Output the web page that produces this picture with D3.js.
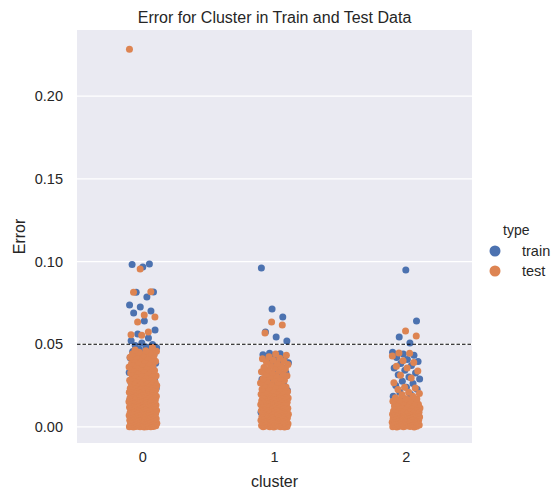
<!DOCTYPE html>
<html>
<head>
<meta charset="utf-8">
<script src="https://cdn.jsdelivr.net/npm/d3@7"></script>
<style>
  body { margin: 0; background: #fff; }
  text { font-family: "Liberation Sans", Arial, sans-serif; fill: #262626; }
</style>
</head>
<body>
<script>
// categories and hue levels
var clusters = ["0", "1", "2"];
var types = ["train", "test"];
var yTicks = [0.00, 0.05, 0.10, 0.15, 0.20];
var threshold = 0.05;

// error values, one list per cluster and type
var train0 = [0.0985, 0.0982, 0.0967, 0.0816, 0.0814, 0.0786, 0.0737, 0.0725, 0.0701, 0.0689,
  0.0640, 0.0586, 0.0562, 0.0538, 0.0521, 0.0507, 0.0499, 0.0492, 0.0484, 0.0479,
  0.0470, 0.0461, 0.0456, 0.0447, 0.0441, 0.0433, 0.0428, 0.0419, 0.0413, 0.0405,
  0.0399, 0.0392, 0.0385, 0.0377, 0.0372, 0.0364, 0.0356, 0.0351, 0.0343, 0.0338,
  0.0329, 0.0322, 0.0317, 0.0308, 0.0301, 0.0296, 0.0287, 0.0281, 0.0273, 0.0266,
  0.0259, 0.0250, 0.0244, 0.0235, 0.0229, 0.0220, 0.0213, 0.0205, 0.0197, 0.0189,
  0.0176, 0.0162, 0.0151, 0.0137, 0.0122, 0.0109, 0.0094, 0.0081, 0.0066, 0.0052,
  0.0039, 0.0027, 0.0014, 0.0006];
var test0 = [0.2284, 0.0955, 0.0818, 0.0815, 0.0677, 0.0665, 0.0634, 0.0574, 0.0557, 0.0554,
  0.0480, 0.0466, 0.0458, 0.0443, 0.0432, 0.0418, 0.0409, 0.0397, 0.0388, 0.0371,
  0.0362, 0.0349, 0.0333, 0.0321, 0.0309, 0.0298, 0.0289, 0.0283, 0.0279, 0.0274,
  0.0270, 0.0266, 0.0262, 0.0257, 0.0253, 0.0249, 0.0245, 0.0241, 0.0236, 0.0232,
  0.0228, 0.0224, 0.0219, 0.0215, 0.0211, 0.0207, 0.0203, 0.0198, 0.0194, 0.0190,
  0.0186, 0.0182, 0.0177, 0.0173, 0.0169, 0.0165, 0.0161, 0.0156, 0.0152, 0.0148,
  0.0144, 0.0140, 0.0135, 0.0131, 0.0127, 0.0123, 0.0119, 0.0114, 0.0110, 0.0106,
  0.0102, 0.0098, 0.0094, 0.0089, 0.0085, 0.0081, 0.0077, 0.0073, 0.0068, 0.0064,
  0.0060, 0.0056, 0.0052, 0.0047, 0.0043, 0.0039, 0.0035, 0.0031, 0.0026, 0.0022,
  0.0018, 0.0014, 0.0010, 0.0007, 0.0005, 0.0003, 0.0002, 0.0001, 0.0000, 0.0000,
  0.0004, 0.0009, 0.0017, 0.0025, 0.0033, 0.0046, 0.0058, 0.0071, 0.0084, 0.0097,
  0.0112, 0.0126, 0.0139, 0.0153, 0.0167, 0.0181, 0.0196, 0.0210, 0.0226, 0.0241,
  0.0012, 0.0029, 0.0041, 0.0063, 0.0078, 0.0091, 0.0117, 0.0133, 0.0158, 0.0184,
  0.0003, 0.0008, 0.0013, 0.0019, 0.0024, 0.0030, 0.0036, 0.0042, 0.0048, 0.0054,
  0.0061, 0.0067, 0.0074, 0.0080, 0.0087, 0.0093, 0.0100, 0.0107, 0.0115, 0.0121,
  0.0129, 0.0136, 0.0142, 0.0149, 0.0155, 0.0163, 0.0171, 0.0178, 0.0185, 0.0192,
  0.0200, 0.0208, 0.0216, 0.0222, 0.0230, 0.0238, 0.0247, 0.0255, 0.0263, 0.0271,
  0.0001, 0.0006, 0.0016, 0.0021, 0.0032, 0.0044, 0.0050, 0.0057, 0.0069, 0.0076,
  0.0088, 0.0099, 0.0104, 0.0116, 0.0125, 0.0138, 0.0146, 0.0159, 0.0166, 0.0179,
  0.0188, 0.0201, 0.0213, 0.0225, 0.0234, 0.0251, 0.0268, 0.0277, 0.0002, 0.0011,
  0.0023, 0.0037, 0.0049, 0.0062, 0.0075, 0.0095, 0.0108, 0.0134, 0.0160, 0.0187,
  0.0285, 0.0292, 0.0301, 0.0306, 0.0314, 0.0318, 0.0326, 0.0337, 0.0341, 0.0354,
  0.0358, 0.0366, 0.0376, 0.0381, 0.0393, 0.0402, 0.0413, 0.0422, 0.0427, 0.0437,
  0.0448, 0.0452, 0.0461, 0.0294, 0.0311, 0.0344, 0.0385, 0.0421];
var train1 = [0.0961, 0.0713, 0.0665, 0.0574, 0.0544, 0.0520, 0.0446, 0.0442, 0.0436, 0.0428,
  0.0419, 0.0408, 0.0397, 0.0388, 0.0376, 0.0363, 0.0351, 0.0339, 0.0327, 0.0314,
  0.0302, 0.0288, 0.0275, 0.0262, 0.0249, 0.0236, 0.0221, 0.0207, 0.0193, 0.0178,
  0.0161, 0.0144, 0.0127, 0.0108, 0.0089, 0.0071, 0.0053, 0.0034, 0.0016, 0.0004];
var test1 = [0.0634, 0.0616, 0.0568, 0.0441, 0.0433, 0.0425, 0.0412, 0.0404, 0.0391, 0.0377,
  0.0365, 0.0352, 0.0341, 0.0329, 0.0317, 0.0305, 0.0291, 0.0278, 0.0266, 0.0254,
  0.0241, 0.0233, 0.0224, 0.0219, 0.0215, 0.0211, 0.0206, 0.0202, 0.0198, 0.0193,
  0.0189, 0.0185, 0.0180, 0.0176, 0.0172, 0.0167, 0.0163, 0.0159, 0.0154, 0.0150,
  0.0146, 0.0141, 0.0137, 0.0133, 0.0128, 0.0124, 0.0120, 0.0115, 0.0111, 0.0107,
  0.0102, 0.0098, 0.0094, 0.0089, 0.0085, 0.0081, 0.0076, 0.0072, 0.0068, 0.0063,
  0.0059, 0.0055, 0.0050, 0.0046, 0.0042, 0.0037, 0.0033, 0.0029, 0.0024, 0.0020,
  0.0016, 0.0012, 0.0008, 0.0005, 0.0003, 0.0001, 0.0000, 0.0000, 0.0006, 0.0014,
  0.0027, 0.0039, 0.0052, 0.0066, 0.0079, 0.0093, 0.0105, 0.0118, 0.0131, 0.0144,
  0.0157, 0.0170, 0.0183, 0.0196, 0.0209, 0.0010, 0.0031, 0.0061, 0.0087, 0.0122,
  0.0002, 0.0007, 0.0011, 0.0017, 0.0022, 0.0028, 0.0034, 0.0040, 0.0045, 0.0051,
  0.0057, 0.0064, 0.0070, 0.0077, 0.0083, 0.0090, 0.0096, 0.0103, 0.0109, 0.0116,
  0.0123, 0.0130, 0.0136, 0.0143, 0.0149, 0.0156, 0.0162, 0.0169, 0.0175, 0.0182,
  0.0188, 0.0195, 0.0201, 0.0208, 0.0214, 0.0001, 0.0009, 0.0019, 0.0026, 0.0035,
  0.0048, 0.0058, 0.0069, 0.0080, 0.0092, 0.0101, 0.0113, 0.0126, 0.0139, 0.0152,
  0.0166, 0.0179, 0.0192, 0.0205, 0.0218,
  0.0228, 0.0237, 0.0245, 0.0259, 0.0270, 0.0283, 0.0296, 0.0309, 0.0322, 0.0334,
  0.0346, 0.0358, 0.0372, 0.0384, 0.0398, 0.0416, 0.0250, 0.0287, 0.0313, 0.0360];
var train2 = [0.0949, 0.0640, 0.0544, 0.0508, 0.0452, 0.0441, 0.0433, 0.0420, 0.0408, 0.0396,
  0.0383, 0.0371, 0.0356, 0.0343, 0.0326, 0.0315, 0.0302, 0.0290, 0.0276, 0.0262,
  0.0250, 0.0240, 0.0228, 0.0210, 0.0198, 0.0185, 0.0170, 0.0145, 0.0128, 0.0112,
  0.0096, 0.0079, 0.0063, 0.0047, 0.0031, 0.0018, 0.0007];
var test2 = [0.0580, 0.0550, 0.0447, 0.0445, 0.0390, 0.0356, 0.0296, 0.0240, 0.0235, 0.0210,
  0.0195, 0.0186, 0.0176, 0.0171, 0.0164, 0.0158, 0.0151, 0.0143, 0.0137, 0.0129,
  0.0122, 0.0116, 0.0109, 0.0103, 0.0098, 0.0094, 0.0090, 0.0086, 0.0082, 0.0078,
  0.0074, 0.0070, 0.0066, 0.0062, 0.0058, 0.0054, 0.0050, 0.0046, 0.0042, 0.0038,
  0.0034, 0.0030, 0.0026, 0.0022, 0.0018, 0.0014, 0.0010, 0.0007, 0.0004, 0.0002,
  0.0000, 0.0000, 0.0005, 0.0012, 0.0020, 0.0028, 0.0036, 0.0044, 0.0052, 0.0060,
  0.0068, 0.0076, 0.0084, 0.0092, 0.0101, 0.0113, 0.0126, 0.0140, 0.0155, 0.0169,
  0.0001, 0.0006, 0.0009, 0.0013, 0.0017, 0.0021, 0.0025, 0.0029, 0.0033, 0.0037,
  0.0041, 0.0045, 0.0049, 0.0053, 0.0057, 0.0061, 0.0065, 0.0069, 0.0073, 0.0077,
  0.0081, 0.0085, 0.0089, 0.0093, 0.0097, 0.0106, 0.0115, 0.0124, 0.0133, 0.0003,
  0.0015, 0.0027, 0.0039, 0.0051, 0.0063, 0.0075, 0.0087, 0.0099, 0.0119, 0.0147,
  0.0203, 0.0226, 0.0268, 0.0312, 0.0338, 0.0367, 0.0401, 0.0429];

var series = [
  {cluster: "0", type: "train", values: train0},
  {cluster: "1", type: "train", values: train1},
  {cluster: "2", type: "train", values: train2},
  {cluster: "0", type: "test", values: test0},
  {cluster: "1", type: "test", values: test1},
  {cluster: "2", type: "test", values: test2}
];

var width = 560, height = 490;
var margin = {top: 30, right: 88, bottom: 47, left: 77};

var svg = d3.select("body").append("svg")
    .attr("width", width)
    .attr("height", height);

var x = d3.scaleBand()
    .domain(clusters)
    .range([margin.left, width - margin.right])
    .padding(0);

var y = d3.scaleLinear()
    .domain([-0.0097, 0.240])
    .range([height - margin.bottom, margin.top]);

var color = d3.scaleOrdinal()
    .domain(types)
    .range(["#4c72b0", "#dd8452"]);

// background + grid
svg.append("rect")
    .attr("x", margin.left)
    .attr("y", margin.top)
    .attr("width", width - margin.left - margin.right)
    .attr("height", height - margin.top - margin.bottom)
    .attr("fill", "#eaeaf2");

svg.append("g")
    .selectAll("line")
    .data(yTicks)
    .join("line")
    .attr("x1", margin.left)
    .attr("x2", width - margin.right)
    .attr("y1", d => y(d))
    .attr("y2", d => y(d))
    .attr("stroke", "#fff")
    .attr("stroke-width", 1.3);

// axes (no domain lines, no tick marks, like seaborn darkgrid)
var yAxis = svg.append("g")
    .attr("transform", "translate(" + margin.left + ",0)")
    .call(d3.axisLeft(y).tickValues(yTicks).tickFormat(d3.format(".2f")).tickSize(0).tickPadding(14));
var xAxis = svg.append("g")
    .attr("transform", "translate(0," + (height - margin.bottom) + ")")
    .call(d3.axisBottom(x).tickSize(0).tickPadding(9));
[xAxis, yAxis].forEach(function(g) {
    g.select(".domain").remove();
    g.selectAll("text")
        .style("font-family", "'Liberation Sans', Arial, sans-serif")
        .style("font-size", "14.5px")
        .attr("fill", "#262626");
});

// strip points, deterministic jitter spread across the band
var jitter = 14;
series.forEach(function(s, k) {
    var vals = d3.sort(s.values);
    var cx = x(s.cluster) + x.bandwidth() / 2;
    svg.append("g")
        .selectAll("circle")
        .data(vals)
        .join("circle")
        .attr("cx", function(d, i) {
            var j = ((i + 1) * 0.6180339887 + k * 0.31) % 1;
            return cx + (j - 0.5) * 2 * jitter;
        })
        .attr("cy", d => y(d))
        .attr("r", 3.5)
        .attr("fill", color(s.type));
});

// threshold line
svg.append("line")
    .attr("x1", margin.left)
    .attr("x2", width - margin.right)
    .attr("y1", y(threshold))
    .attr("y2", y(threshold))
    .attr("stroke", "#000")
    .attr("stroke-width", 1)
    .attr("stroke-dasharray", "3.5,2");

// title and labels
svg.append("text")
    .attr("x", (margin.left + width - margin.right) / 2)
    .attr("y", 23)
    .attr("text-anchor", "middle")
    .style("font-size", "16px")
    .text("Error for Cluster in Train and Test Data");

svg.append("text")
    .attr("x", (margin.left + width - margin.right) / 2)
    .attr("y", 487)
    .attr("text-anchor", "middle")
    .style("font-size", "16px")
    .text("cluster");

svg.append("text")
    .attr("transform", "translate(25," + ((margin.top + height - margin.bottom) / 2) + ") rotate(-90)")
    .attr("text-anchor", "middle")
    .style("font-size", "16px")
    .text("Error");

// legend
var legend = svg.append("g");
legend.append("text")
    .attr("x", 503)
    .attr("y", 235)
    .style("font-size", "14px")
    .text("type");
var items = legend.selectAll("g.item")
    .data(types)
    .join("g")
    .attr("class", "item")
    .attr("transform", (d, i) => "translate(495," + (251 + i * 20) + ")");
items.append("circle")
    .attr("r", 5.5)
    .attr("fill", d => color(d));
items.append("text")
    .attr("x", 27)
    .attr("dy", "0.35em")
    .style("font-size", "14.5px")
    .text(d => d);
</script>
</body>
</html>
